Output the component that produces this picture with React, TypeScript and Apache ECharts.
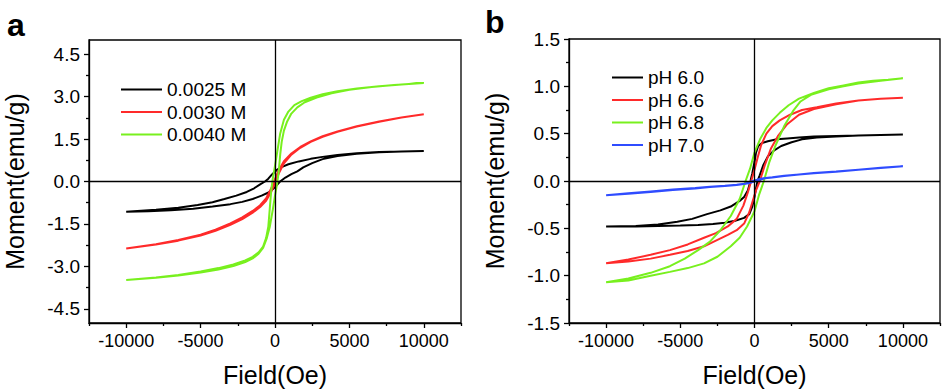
import React, { useEffect, useRef } from "react";
import * as echarts from "echarts";

type P = [number, number];

// Panel a — 0.0025 M
const aBlackDown: P[] = [[10000,1.08],[8500,1.06],[7000,1.04],[5500,1.0],[4200,0.94],[3200,0.87],[2400,0.8],[1600,0.71],[900,0.61],[400,0.5],[100,0.4],[-200,0.25],[-450,0.1],[-670,0],[-1000,-0.1],[-1400,-0.24],[-1900,-0.37],[-2600,-0.5],[-3400,-0.62],[-4200,-0.73],[-5200,-0.83],[-6500,-0.93],[-8000,-1.0],[-10000,-1.07]];
const aBlackUp: P[] = [[-10000,-1.07],[-8500,-1.05],[-7000,-1.02],[-5500,-0.96],[-4200,-0.88],[-3000,-0.8],[-2200,-0.72],[-1500,-0.62],[-900,-0.5],[-400,-0.38],[0,-0.2],[340,0],[700,0.14],[1100,0.26],[1500,0.36],[1900,0.5],[2500,0.65],[3200,0.79],[4200,0.9],[5500,0.98],[7000,1.03],[8500,1.06],[10000,1.08]];
// Panel a — 0.0030 M
const aRedDown: P[] = [[10000,2.38],[8500,2.26],[7000,2.12],[5500,1.95],[4200,1.77],[3200,1.6],[2400,1.42],[1700,1.22],[1100,0.99],[600,0.72],[250,0.4],[0,0.08],[-250,-0.24],[-600,-0.6],[-1000,-0.84],[-1500,-1.04],[-2200,-1.27],[-3000,-1.48],[-4000,-1.7],[-5000,-1.88],[-6500,-2.07],[-8000,-2.22],[-10000,-2.37]];
const aRedUp: P[] = [[-10000,-2.37],[-8000,-2.23],[-6500,-2.09],[-5000,-1.91],[-4000,-1.74],[-3000,-1.53],[-2200,-1.33],[-1500,-1.1],[-1000,-0.9],[-600,-0.68],[-250,-0.36],[0,-0.06],[250,0.28],[600,0.64],[1100,0.95],[1700,1.19],[2400,1.4],[3200,1.58],[4200,1.76],[5500,1.94],[7000,2.11],[8500,2.26],[10000,2.38]];
// Panel a — 0.0040 M
const aGreenDown: P[] = [[10000,3.48],[8500,3.43],[7000,3.37],[5500,3.29],[4200,3.19],[3200,3.08],[2400,2.96],[1800,2.84],[1300,2.7],[900,2.47],[600,2.18],[350,1.7],[150,1.05],[0,0.55],[-150,0.1],[-250,-0.3],[-350,-0.95],[-450,-1.6],[-600,-2.0],[-800,-2.3],[-1100,-2.5],[-1500,-2.66],[-2000,-2.79],[-2800,-2.93],[-3800,-3.06],[-5000,-3.18],[-6500,-3.3],[-8000,-3.39],[-10000,-3.48]];
const aGreenUp: P[] = [[-10000,-3.48],[-8000,-3.4],[-6500,-3.32],[-5000,-3.22],[-3800,-3.11],[-2800,-2.99],[-2000,-2.85],[-1500,-2.72],[-1100,-2.55],[-800,-2.35],[-550,-2.0],[-350,-1.6],[-150,-1.0],[0,-0.5],[150,-0.05],[250,0.35],[350,0.95],[450,1.4],[600,1.8],[800,2.1],[1100,2.4],[1500,2.62],[2000,2.8],[2800,2.97],[3800,3.12],[5000,3.24],[6500,3.34],[8000,3.41],[10000,3.48]];

// Panel b — pH 6.0
const bBlackDown: P[] = [[10000,0.49],[8500,0.485],[7000,0.48],[5500,0.475],[4000,0.47],[3000,0.46],[2200,0.45],[1500,0.44],[900,0.42],[500,0.4],[250,0.37],[100,0.3],[0,0.2],[-150,0.08],[-270,0],[-450,-0.1],[-700,-0.17],[-1000,-0.21],[-1600,-0.27],[-2300,-0.31],[-3200,-0.35],[-4200,-0.4],[-5200,-0.43],[-6500,-0.46],[-8000,-0.475],[-10000,-0.48]];
const bBlackUp: P[] = [[-10000,-0.48],[-8000,-0.48],[-6500,-0.475],[-5000,-0.47],[-3800,-0.465],[-2800,-0.455],[-2000,-0.44],[-1300,-0.42],[-700,-0.39],[-350,-0.35],[-150,-0.27],[0,-0.17],[100,-0.08],[200,0],[350,0.06],[600,0.17],[900,0.26],[1300,0.32],[1800,0.37],[2500,0.41],[3200,0.44],[4200,0.46],[5500,0.47],[7000,0.48],[8500,0.485],[10000,0.49]];
// Panel b — pH 6.6
const bRedDown: P[] = [[10000,0.88],[8500,0.87],[7000,0.85],[5500,0.82],[4200,0.78],[3200,0.75],[2400,0.7],[1700,0.64],[1200,0.58],[800,0.5],[450,0.38],[200,0.24],[0,0.12],[-220,0],[-450,-0.12],[-750,-0.26],[-1200,-0.4],[-1800,-0.48],[-2600,-0.55],[-3400,-0.6],[-4500,-0.67],[-5700,-0.73],[-7000,-0.78],[-8500,-0.83],[-10000,-0.87]];
const bRedUp: P[] = [[-10000,-0.87],[-8500,-0.85],[-7000,-0.82],[-5700,-0.78],[-4500,-0.74],[-3400,-0.69],[-2600,-0.63],[-1800,-0.57],[-1200,-0.52],[-700,-0.45],[-350,-0.33],[-100,-0.2],[100,-0.1],[360,0],[700,0.17],[1100,0.34],[1600,0.48],[2200,0.6],[3000,0.7],[4000,0.76],[5500,0.81],[7000,0.85],[8500,0.87],[10000,0.88]];
// Panel b — pH 6.8
const bGreenDown: P[] = [[10000,1.085],[9000,1.07],[8000,1.06],[7000,1.04],[6000,1.01],[5000,0.98],[4000,0.93],[3000,0.87],[2300,0.8],[1700,0.72],[1200,0.64],[800,0.56],[400,0.45],[0,0.3],[-300,0.13],[-600,0],[-1000,-0.19],[-1600,-0.37],[-2300,-0.52],[-3000,-0.64],[-3800,-0.73],[-4700,-0.82],[-5700,-0.9],[-7000,-0.97],[-8500,-1.03],[-10000,-1.07]];
const bGreenUp: P[] = [[-10000,-1.07],[-8500,-1.05],[-7000,-1.0],[-5700,-0.96],[-4500,-0.92],[-3400,-0.87],[-2500,-0.8],[-1600,-0.69],[-1000,-0.6],[-500,-0.48],[0,-0.32],[300,-0.15],[630,0],[1000,0.2],[1400,0.37],[2000,0.58],[2600,0.74],[3100,0.84],[3800,0.91],[5000,0.97],[6000,1.0],[7000,1.03],[8500,1.06],[10000,1.085]];
// Panel b — pH 7.0
const bBlueDown: P[] = [[10000,0.155],[8500,0.14],[7000,0.12],[5500,0.1],[4000,0.085],[3000,0.07],[2000,0.055],[1200,0.04],[600,0.03],[200,0.015],[0,0.005],[-300,-0.01],[-700,-0.03],[-1200,-0.04],[-2000,-0.05],[-3000,-0.06],[-4000,-0.075],[-5500,-0.09],[-7000,-0.11],[-8500,-0.13],[-10000,-0.15]];
const bBlueUp: P[] = [[-10000,-0.15],[-8500,-0.135],[-7000,-0.115],[-5500,-0.095],[-4000,-0.078],[-3000,-0.064],[-2000,-0.052],[-1200,-0.042],[-600,-0.03],[-200,-0.015],[0,-0.005],[300,0.01],[700,0.028],[1200,0.038],[2000,0.052],[3000,0.068],[4000,0.082],[5500,0.098],[7000,0.118],[8500,0.137],[10000,0.155]];

const namesA = ["0.0025 M", "0.0030 M", "0.0040 M"];
const namesB = ["pH 6.0", "pH 6.6", "pH 6.8", "pH 7.0"];

const xMajor = [-10000, -5000, 0, 5000, 10000];
const xMinor = [-12500, -7500, -2500, 2500, 7500, 12500];
const yMajorA = [-4.5, -3, -1.5, 0, 1.5, 3, 4.5];
const yMinorA = [-3.75, -2.25, -0.75, 0.75, 2.25, 3.75];
const yMajorB = [-1.5, -1, -0.5, 0, 0.5, 1, 1.5];
const yMinorB = [-1.25, -0.75, -0.25, 0.25, 0.75, 1.25];

const FONT = "'Liberation Sans', Arial, sans-serif";
const BLACK = "#000000";
const RED = "#ff2a2a";
const GREEN = "#78f01e";
const BLUE = "#2f4cff";

export default function App() {
  const ref = useRef<HTMLDivElement>(null);
  useEffect(() => {
    if (!ref.current) return;
    const chart = echarts.init(ref.current, undefined, { renderer: "svg" });

    const xMain = (grid: number) => ({
      type: "value", gridIndex: grid, min: -12500, max: 12500, position: "bottom",
      axisLine: { show: true, onZero: false, lineStyle: { color: BLACK, width: 1.3 } },
      axisTick: { show: true, customValues: xMajor, length: 5, lineStyle: { color: BLACK, width: 1.3 } },
      axisLabel: { customValues: xMajor, formatter: (v: number) => String(v), color: BLACK, fontSize: 18, fontFamily: FONT, margin: 9 },
      splitLine: { show: false },
      name: "Field(Oe)", nameLocation: "middle", nameGap: 39,
      nameTextStyle: { color: BLACK, fontSize: 25, fontFamily: FONT },
    });
    const xMin = (grid: number) => ({
      type: "value", gridIndex: grid, min: -12500, max: 12500, position: "bottom",
      axisLine: { show: false, onZero: false },
      axisTick: { show: true, customValues: xMinor, length: 3, lineStyle: { color: BLACK, width: 1.3 } },
      axisLabel: { show: false }, splitLine: { show: false },
    });
    const yMain = (grid: number, min: number, max: number, major: number[]) => ({
      type: "value", gridIndex: grid, min, max, position: "left",
      axisLine: { show: true, onZero: false, lineStyle: { color: BLACK, width: 1.3 } },
      axisTick: { show: true, customValues: major, length: 5, lineStyle: { color: BLACK, width: 1.3 } },
      axisLabel: { customValues: major, formatter: (v: number) => v.toFixed(1), color: BLACK, fontSize: 19, fontFamily: FONT, margin: 9 },
      splitLine: { show: false },
      name: "Moment(emu/g)", nameLocation: "middle", nameGap: 62,
      nameTextStyle: { color: BLACK, fontSize: 25, fontFamily: FONT },
    });
    const yMin = (grid: number, min: number, max: number, minor: number[]) => ({
      type: "value", gridIndex: grid, min, max, position: "left",
      axisLine: { show: false, onZero: false },
      axisTick: { show: true, customValues: minor, length: 3, lineStyle: { color: BLACK, width: 1.3 } },
      axisLabel: { show: false }, splitLine: { show: false },
    });

    const crossLines = {
      silent: true, symbol: ["none", "none"], label: { show: false },
      lineStyle: { color: BLACK, type: "solid", width: 1.3 },
      data: [{ xAxis: 0 }, { yAxis: 0 }],
    };

    const line = (name: string, color: string, data: P[], xi: number, yi: number, withCross = false) => ({
      type: "line", name, xAxisIndex: xi, yAxisIndex: yi, data, symbol: "none", showSymbol: false,
      lineStyle: { color, width: 2 }, itemStyle: { color }, smooth: false,
      ...(withCross ? { markLine: crossLines } : {}),
    });

    chart.setOption({
      animation: false,
      backgroundColor: "#ffffff",
      textStyle: { fontFamily: FONT },
      grid: [
        { left: 89, top: 40, width: 372, height: 283, show: true, borderColor: BLACK, borderWidth: 1.3, backgroundColor: "transparent" },
        { left: 569, top: 39, width: 371, height: 284, show: true, borderColor: BLACK, borderWidth: 1.3, backgroundColor: "transparent" },
      ],
      xAxis: [xMain(0), xMin(0), xMain(1), xMin(1)],
      yAxis: [
        yMain(0, -5, 5, yMajorA), yMin(0, -5, 5, yMinorA),
        yMain(1, -1.5, 1.5, yMajorB), yMin(1, -1.5, 1.5, yMinorB),
      ],
      legend: [
        {
          data: namesA, orient: "vertical", left: 121, top: 80, padding: 0,
          icon: "rect", itemWidth: 41, itemHeight: 2, itemGap: 3.5,
          textStyle: { color: BLACK, fontSize: 19, fontFamily: FONT },
        },
        {
          data: namesB, orient: "vertical", left: 612, top: 68, padding: 0,
          icon: "rect", itemWidth: 31, itemHeight: 2, itemGap: 3.5,
          textStyle: { color: BLACK, fontSize: 19, fontFamily: FONT },
        },
      ],
      graphic: [
        { type: "text", left: 7, top: 9, style: { text: "a", font: `bold 32px ${FONT}`, fill: BLACK } },
        { type: "text", left: 485, top: 6, style: { text: "b", font: `bold 32px ${FONT}`, fill: BLACK } },
      ],
      series: [
        line(namesA[0], BLACK, [...aBlackDown, ...aBlackUp], 0, 0, true),
        line(namesA[1], RED, [...aRedDown, ...aRedUp], 0, 0),
        line(namesA[2], GREEN, [...aGreenDown, ...aGreenUp], 0, 0),
        line(namesB[0], BLACK, [...bBlackDown, ...bBlackUp], 2, 2, true),
        line(namesB[1], RED, [...bRedDown, ...bRedUp], 2, 2),
        line(namesB[2], GREEN, [...bGreenDown, ...bGreenUp], 2, 2),
        line(namesB[3], BLUE, [...bBlueDown, ...bBlueUp], 2, 2),
      ],
    });
    return () => chart.dispose();
  }, []);
  return <div ref={ref} style={{ position: "absolute", left: 0, top: 0, width: 946, height: 392 }} />;
}
